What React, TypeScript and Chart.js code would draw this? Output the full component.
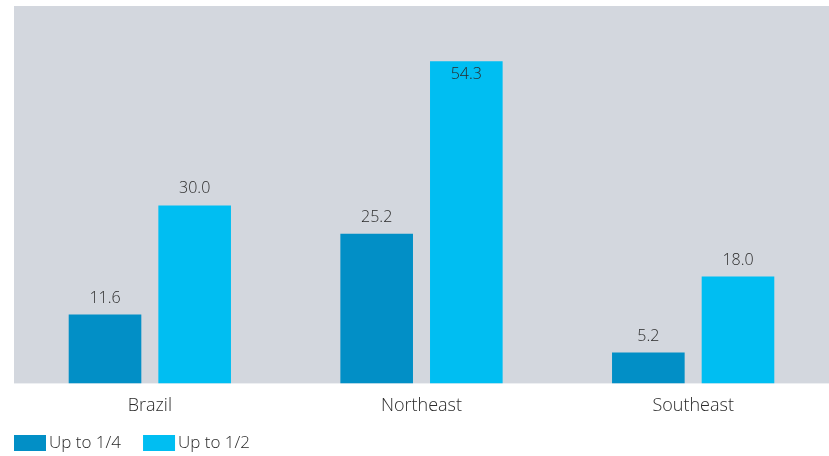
import React, { useEffect, useRef } from "react";
import { Chart, registerables } from "chart.js";

Chart.register(...registerables);

const categories = ["Brazil", "Northeast", "Southeast"];
const seriesNames = ["Up to 1/4", "Up to 1/2"];
const upToQuarter = [11.6, 25.2, 5.2];
const upToHalf = [30.0, 54.3, 18.0];
const colors = ["#028fc6", "#00bef2"];

const FONT = "'Open Sans', sans-serif";
const TEXT = "#2a2a2a";

const bgPlugin = {
  id: "plotBg",
  beforeDraw(chart: any) {
    const { ctx, chartArea } = chart;
    ctx.save();
    ctx.fillStyle = "#d3d7de";
    ctx.fillRect(chartArea.left, chartArea.top, chartArea.right - chartArea.left, chartArea.bottom - chartArea.top);
    ctx.restore();
  },
};

const labelPlugin = {
  id: "valueLabels",
  afterDatasetsDraw(chart: any) {
    const { ctx, chartArea } = chart;
    ctx.save();
    ctx.font = `300 16px ${FONT}`;
    ctx.fillStyle = TEXT;
    ctx.textAlign = "center";
    ctx.textBaseline = "alphabetic";
    chart.data.datasets.forEach((ds: any, i: number) => {
      const meta = chart.getDatasetMeta(i);
      meta.data.forEach((bar: any, j: number) => {
        const v = ds.data[j];
        let y = bar.y - 12;
        if (bar.y < chartArea.top + 70) {
          y = bar.y + 18;
        }
        ctx.fillText(v.toFixed(1), bar.x, y);
      });
    });
    ctx.restore();
  },
};

const legendPlugin = {
  id: "bottomLegend",
  afterDraw(chart: any) {
    const { ctx } = chart;
    ctx.save();
    ctx.font = `300 17px ${FONT}`;
    ctx.textBaseline = "middle";
    ctx.textAlign = "left";
    let x = 14;
    const cy = 443;
    chart.data.datasets.forEach((ds: any) => {
      ctx.fillStyle = ds.backgroundColor;
      ctx.fillRect(x, cy - 8, 32, 16);
      ctx.fillStyle = TEXT;
      ctx.fillText(ds.label, x + 35, cy);
      x += 35 + ctx.measureText(ds.label).width + 22;
    });
    ctx.restore();
  },
};

export default function App() {
  const ref = useRef<HTMLCanvasElement>(null);
  useEffect(() => {
    document.body.style.margin = "0";
    const chart = new Chart(ref.current!, {
      type: "bar",
      data: {
        labels: categories,
        datasets: [
          { label: seriesNames[0], data: upToQuarter, backgroundColor: colors[0] },
          { label: seriesNames[1], data: upToHalf, backgroundColor: colors[1] },
        ],
      },
      options: {
        animation: false,
        responsive: false,
        layout: { padding: { left: 14, top: 6, right: 0, bottom: 35 } },
        datasets: { bar: { categoryPercentage: 0.66, barPercentage: 0.81 } },
        scales: {
          x: {
            grid: { display: false },
            border: { display: false },
            ticks: { color: TEXT, font: { family: FONT, size: 18, weight: "300" }, padding: 4 },
          },
          y: { display: false, min: 0, max: 63.6 },
        },
        plugins: {
          tooltip: { enabled: false },
          legend: { display: false },
        },
      },
      plugins: [bgPlugin, labelPlugin, legendPlugin],
    });
    return () => chart.destroy();
  }, []);
  return <canvas ref={ref} width={829} height={456} style={{ display: "block" }} />;
}
